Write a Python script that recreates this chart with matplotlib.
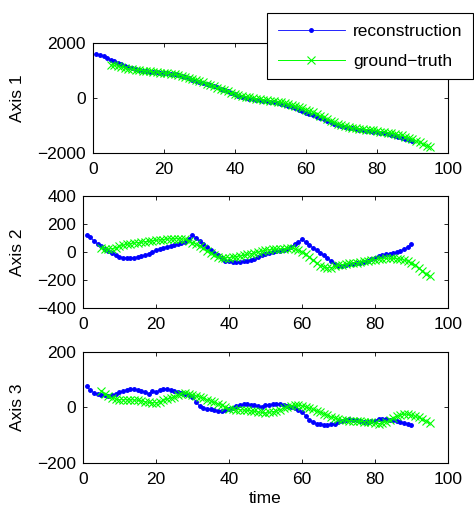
import numpy as np
import matplotlib
matplotlib.use("Agg")
import matplotlib.pyplot as plt

plt.rcParams['font.family'] = ['Liberation Sans', 'DejaVu Sans']
plt.rcParams['font.size'] = 12.5

# time stamps
t_rec = list(range(1, 91))
t_gt = list(range(5, 96))

# axis 1
rec1 = [1610, 1570, 1520, 1456, 1400, 1340, 1280, 1225, 1170, 1130,
        1090, 1055, 1025, 995, 975, 960, 948, 938, 930, 920,
        905, 885, 860, 830, 795, 755, 715, 670, 630, 590,
        555, 520, 480, 435, 385, 335, 285, 240, 190, 140,
        85, 30, 0, -25, -45, -65, -85, -105, -120, -140,
        -160, -185, -215, -250, -290, -335, -380, -430, -480, -530,
        -580, -630, -680, -730, -780, -830, -880, -930, -980, -1020,
        -1055, -1085, -1110, -1135, -1155, -1175, -1195, -1210, -1230, -1250,
        -1270, -1290, -1310, -1340, -1370, -1410, -1450, -1480, -1515, -1550]
gt1 = [1220, 1190, 1160, 1130, 1100, 1075, 1050, 1030, 1015, 1000,
       985, 970, 955, 940, 930, 915, 900, 880, 860, 840,
       815, 780, 740, 700, 660, 615, 570, 520, 470, 425,
       380, 335, 290, 240, 195, 150, 110, 75, 45, 20,
       0, -20, -40, -60, -80, -100, -120, -140, -160, -185,
       -215, -250, -290, -330, -375, -420, -470, -525, -580, -640,
       -700, -760, -820, -880, -935, -980, -1020, -1055, -1085, -1105,
       -1120, -1135, -1150, -1165, -1180, -1200, -1220, -1240, -1260, -1280,
       -1300, -1330, -1365, -1405, -1450, -1500, -1560, -1620, -1680, -1730,
       -1780]

# axis 2
rec2 = [125, 105, 80, 58, 40, 22, 8, -5, -20, -33,
        -40, -43, -43, -40, -35, -30, -22, -12, 0, 12,
        22, 30, 38, 45, 50, 56, 62, 72, 90, 120,
        100, 78, 55, 35, 15, -5, -25, -45, -62, -68,
        -72, -72, -70, -66, -62, -55, -48, -38, -25, -12,
        -5, 0, 5, 10, 15, 22, 35, 55, 70, 90,
        70, 50, 30, 12, -5, -25, -45, -65, -85, -100,
        -97, -93, -88, -84, -80, -76, -70, -62, -50, -42,
        -30, -24, -18, -14, -10, 0, 8, 20, 35, 55]
gt2 = [25, 22, 22, 24, 30, 40, 48, 55, 60, 64,
       67, 70, 73, 76, 80, 83, 86, 89, 92, 94,
       95, 95, 93, 90, 80, 67, 55, 40, 26, 10,
       -8, -24, -35, -40, -42, -40, -37, -33, -29, -24,
       -18, -12, -6, 0, 6, 12, 15, 18, 20, 22,
       24, 26, 26, 22, 12, 0, -18, -38, -60, -80,
       -98, -108, -114, -112, -104, -96, -90, -86, -82, -78,
       -76, -72, -68, -64, -60, -55, -50, -47, -45, -45,
       -46, -48, -52, -58, -66, -78, -95, -115, -135, -155,
       -172]

# axis 3
rec3 = [76, 62, 53, 47, 46, 44, 42, 44, 49, 56,
        60, 64, 66, 66, 64, 60, 56, 49, 59, 56,
        62, 66, 68, 64, 59, 55, 52, 48, 44, 38,
        20, 4, -2, -5, -7, -10, -12, -11, -10, -7,
        -2, 5, 10, 12, 12, 10, 8, 4, 2, 8,
        10, 12, 14, 12, 10, 6, 3, -1, -8, -15,
        -30, -45, -52, -58, -60, -62, -62, -61, -58, -52,
        -48, -45, -43, -44, -46, -49, -51, -52, -50, -48,
        -42, -40, -42, -44, -46, -48, -52, -55, -58, -62]
gt3 = [60, 50, 42, 34, 30, 28, 28, 28, 28, 27,
       26, 24, 21, 18, 17, 17, 20, 26, 30, 34,
       38, 44, 50, 52, 50, 46, 42, 38, 34, 28,
       23, 18, 14, 8, 2, -4, -6, -8, -8, -9,
       -10, -12, -14, -16, -18, -20, -18, -15, -13, -8,
       -2, 2, 6, 8, 8, 6, 2, -2, -7, -12,
       -17, -22, -28, -34, -38, -42, -45, -46, -47, -48,
       -49, -50, -51, -52, -54, -56, -58, -56, -52, -46,
       -38, -32, -26, -24, -25, -28, -32, -36, -42, -48,
       -56]

ylims = [(-2000, 2000), (-400, 400), (-200, 200)]
yticks = [[-2000, 0, 2000], [-400, -200, 0, 200, 400], [-200, 0, 200]]
labels = ["Axis 1", "Axis 2", "Axis 3"]
recs = [rec1, rec2, rec3]
gts = [gt1, gt2, gt3]

# axes boxes in figure fraction
boxes = [[0.196, 0.699, 0.749, 0.216],
         [0.175, 0.394, 0.770, 0.220],
         [0.175, 0.0886, 0.770, 0.2185]]
label_y = [0.807, 0.504, 0.198]

fig = plt.figure(figsize=(4.74, 5.08), dpi=100)

for i in range(3):
    ax = fig.add_axes(boxes[i])
    l1, = ax.plot(t_rec, recs[i], '-', color=(0, 0, 1), marker='.', markersize=5,
                  linewidth=0.6, label='reconstruction')
    l2, = ax.plot(t_gt, gts[i], '-', color=(0, 1, 0), marker='x', markersize=6,
                  markeredgewidth=0.8, linewidth=0.7, label='ground\u2212truth')
    ax.set_xlim(0, 100)
    ax.set_ylim(*ylims[i])
    ax.set_xticks([0, 20, 40, 60, 80, 100])
    ax.set_yticks(yticks[i])
    ax.set_yticklabels([str(v).replace('-', '\u2212') for v in yticks[i]])
    ax.tick_params(direction='in', top=True, right=True, length=3, width=0.6)
    ax.tick_params(axis='y', pad=5)
    ax.tick_params(axis='x', pad=6.5)
    for s in ax.spines.values():
        s.set_linewidth(0.8)
    fig.text(0.036, label_y[i], labels[i], rotation=90, ha='center', va='center')
    if i == 2:
        ax.set_xlabel('time', labelpad=3)
    if i == 0:
        handles = [l1, l2]

leg = fig.legend(handles=handles, loc='upper right', bbox_to_anchor=(0.998, 0.974),
                 frameon=True, fancybox=False, handlelength=3.9, borderpad=0.6,
                 labelspacing=0.85, handletextpad=0.45, borderaxespad=0)
leg.get_frame().set_edgecolor('black')
leg.get_frame().set_linewidth(0.8)
leg.get_frame().set_alpha(1)

fig.savefig('out.png', dpi=100)
